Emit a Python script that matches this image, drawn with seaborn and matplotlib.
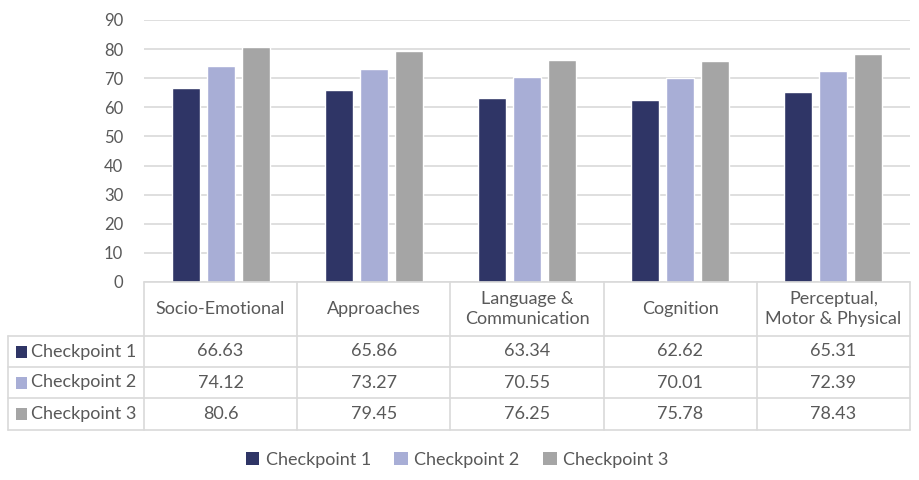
import matplotlib
matplotlib.use("Agg")
import matplotlib.pyplot as plt
from matplotlib.patches import Patch, Rectangle
from matplotlib.lines import Line2D
import seaborn as sns
import pandas as pd

categories = ["Socio-Emotional", "Approaches", "Language &\nCommunication",
              "Cognition", "Perceptual,\nMotor & Physical"]
series_names = ["Checkpoint 1", "Checkpoint 2", "Checkpoint 3"]
checkpoint1 = [66.63, 65.86, 63.34, 62.62, 65.31]
checkpoint2 = [74.12, 73.27, 70.55, 70.01, 72.39]
checkpoint3 = [80.6, 79.45, 76.25, 75.78, 78.43]
value_labels = [["66.63", "65.86", "63.34", "62.62", "65.31"],
                ["74.12", "73.27", "70.55", "70.01", "72.39"],
                ["80.6", "79.45", "76.25", "75.78", "78.43"]]
yticks = [0, 10, 20, 30, 40, 50, 60, 70, 80, 90]
colors = ["#2F3566", "#A8AED6", "#A5A5A5"]

sns.set_style("white")
plt.rcParams["font.family"] = ["Lato", "DejaVu Sans"]
TXT = "#595959"
GRID = "#D9D9D9"
FS = 13

rows = []
for name, vals in zip(series_names, [checkpoint1, checkpoint2, checkpoint3]):
    for c, v in zip(categories, vals):
        rows.append({"Category": c, "Checkpoint": name, "Value": v})
df = pd.DataFrame(rows)

W, H = 919, 480
fig = plt.figure(figsize=(W / 100, H / 100), dpi=100)
fig.patch.set_facecolor("white")

def fx(px):
    return px / W

def fy(py):
    return 1 - py / H

ax_l, ax_r, ax_t, ax_b = 144, 910, 20, 282
ax = fig.add_axes([fx(ax_l), fy(ax_b), fx(ax_r) - fx(ax_l), fy(ax_t) - fy(ax_b)])
sns.barplot(data=df, x="Category", y="Value", hue="Checkpoint", order=categories,
            hue_order=series_names, palette=colors, width=0.685, gap=0.2,
            saturation=1, legend=False, ax=ax, zorder=3)
ax.set_ylim(0, 90)
ax.set_xlim(-0.5, len(categories) - 0.5)
ax.set_yticks(yticks)
ax.set_yticklabels([str(t) for t in yticks], color=TXT, fontsize=12)
ax.tick_params(axis="y", length=0, pad=15)
ax.set_xticks([])
ax.set_xlabel("")
ax.set_ylabel("")
ax.yaxis.grid(True, color=GRID, linewidth=1.2, zorder=0)
ax.set_axisbelow(True)
for s in ["top", "right", "left", "bottom"]:
    ax.spines[s].set_visible(False)

# data table
col_edges = [ax_l + i * (ax_r - ax_l) / len(categories) for i in range(len(categories) + 1)]
row_edges = [282, 336, 367, 398, 430]
left_edge = 8
lc = dict(color=GRID, linewidth=1.2, transform=fig.transFigure)

fig.add_artist(Line2D([fx(ax_l), fx(ax_r)], [fy(row_edges[0])] * 2, **lc))
for r in row_edges[1:]:
    fig.add_artist(Line2D([fx(left_edge), fx(ax_r)], [fy(r)] * 2, **lc))
fig.add_artist(Line2D([fx(left_edge)] * 2, [fy(row_edges[1]), fy(row_edges[-1])], **lc))
for c in col_edges:
    fig.add_artist(Line2D([fx(c)] * 2, [fy(row_edges[0]), fy(row_edges[-1])], **lc))

for i, cat in enumerate(categories):
    cx = (col_edges[i] + col_edges[i + 1]) / 2
    cy = (row_edges[0] + row_edges[1]) / 2
    fig.text(fx(cx), fy(cy), cat, ha="center", va="center", color=TXT,
             fontsize=FS, linespacing=1.25)

for j, name in enumerate(series_names):
    cy = (row_edges[j + 1] + row_edges[j + 2]) / 2
    fig.add_artist(Rectangle((fx(16), fy(cy + 6)), fx(11), fy(0) - fy(12),
                             transform=fig.transFigure, facecolor=colors[j],
                             edgecolor="none"))
    fig.text(fx(31), fy(cy), name, ha="left", va="center", color=TXT, fontsize=FS)
    for i in range(len(categories)):
        cx = (col_edges[i] + col_edges[i + 1]) / 2
        fig.text(fx(cx), fy(cy), value_labels[j][i], ha="center", va="center",
                 color=TXT, fontsize=FS)

handles = [Patch(facecolor=c, edgecolor="none", label=n) for c, n in zip(colors, series_names)]
fig.legend(handles=handles, loc="center", bbox_to_anchor=(fx(457), fy(460)), ncol=3,
           frameon=False, fontsize=FS, handlelength=0.75, handleheight=0.75,
           handletextpad=0.35, columnspacing=1.3, labelcolor=TXT)

fig.savefig("out.png", dpi=100, facecolor="white")
